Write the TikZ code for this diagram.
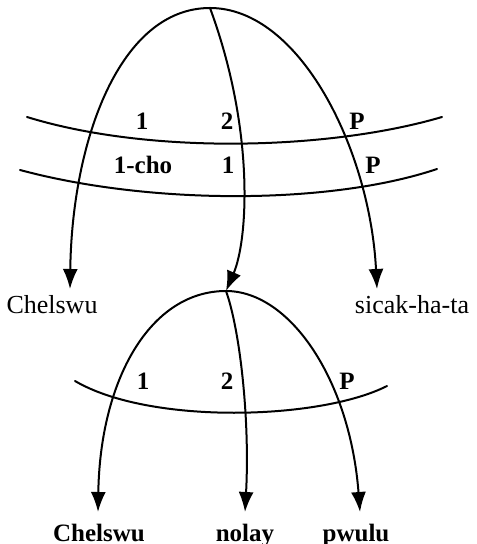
\documentclass[tikz,border=0pt]{standalone}
\usepackage{fontspec}
\setmainfont{Liberation Serif}
\usetikzlibrary{arrows.meta}

\begin{document}
\begin{tikzpicture}[
  x=0.5pt, y=-0.5pt,
  line width=1pt,
  line cap=round, line join=round,
  arc/.style={-{Latex[length=10pt,width=7.5pt]}},
  word/.style={anchor=base, font=\fontsize{13pt}{13pt}\selectfont},
  bword/.style={anchor=base, font=\fontsize{12.5pt}{12.5pt}\selectfont\bfseries},
  every node/.style={inner sep=0pt}
]
  \useasboundingbox (0,0) rectangle (476,544);
  % ---- apexes ----
  \coordinate (T1) at (210,8);
  \coordinate (T2) at (226,291);
  % ---- arrow ends ----
  \coordinate (L1) at (70,289);
  \coordinate (R1) at (377,289);
  \coordinate (L2) at (98,512);
  \coordinate (M2) at (245,512);
  \coordinate (R2) at (360,512);
  % ---- band ends ----
  \coordinate (Ua) at (27,117);
  \coordinate (Ub) at (442,117);
  \coordinate (Va) at (20,170);
  \coordinate (Vb) at (437,169);
  \coordinate (Wa) at (75,381);
  \coordinate (Wb) at (387,386);
  % ---- upper tree ----
  \draw[arc] (T1) .. controls (120,8) and (72,140) .. (L1);
  \draw[arc] (T1) .. controls (255,130) and (248,240) .. (T2);
  \draw[arc] (T1) .. controls (300,8) and (370,150) .. (R1);
  \draw (Ua) .. controls (150,155) and (330,150) .. (Ub);
  \draw (Va) .. controls (150,205) and (330,205) .. (Vb);
  % ---- lower tree ----
  \draw[arc] (T2) .. controls (150,291) and (100,380) .. (L2);
  \draw[arc] (T2) .. controls (240,330) and (250,420) .. (M2);
  \draw[arc] (T2) .. controls (290,291) and (350,380) .. (R2);
  \draw (Wa) .. controls (150,425) and (320,420) .. (Wb);
  % ---- labels ----
  \node[bword] (u1) at (142,130) {1};
  \node[bword] (u2) at (227,130) {2};
  \node[bword] (uP) at (357,130) {P};
  \node[bword] (v1) at (143,174) {1-cho};
  \node[bword] (v2) at (228,174) {1};
  \node[bword] (vP) at (373,174) {P};
  \node[bword] (w1) at (143,389) {1};
  \node[bword] (w2) at (227,389) {2};
  \node[bword] (wP) at (347,389) {P};
  \node[word] (chelA) at (52,314) {Chelswu};
  \node[word] (sicak) at (412,314) {sicak-ha-ta};
  \node[bword] (chelB) at (99,541) {Chelswu};
  \node[bword] (nolay) at (245,541) {nolay};
  \node[bword] (pwulu) at (356,541) {pwulu};
\end{tikzpicture}
\end{document}
